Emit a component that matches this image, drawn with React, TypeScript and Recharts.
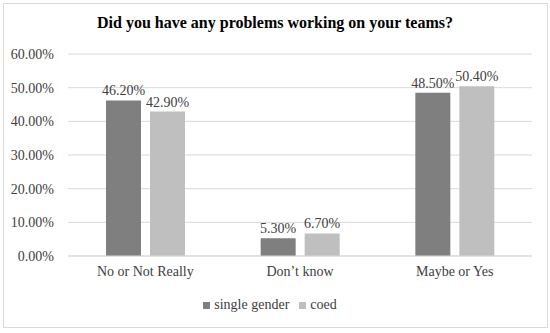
import React from 'react';
import { Bar, BarChart, CartesianGrid, LabelList, Legend, XAxis, YAxis } from 'recharts';

const categories = ['No or Not Really', 'Don\u2019t know', 'Maybe or Yes'];
const singleGender = [46.2, 5.3, 48.5];
const coed = [42.9, 6.7, 50.4];
const yTicks = [0, 10, 20, 30, 40, 50, 60];
const seriesOrder = ['single gender', 'coed'];

const data = categories.map((name, i) => ({
  name,
  single: singleGender[i],
  coed: coed[i],
}));

const pct = (v: number) => `${Number(v).toFixed(2)}%`;
const FONT = '"Liberation Serif", "Times New Roman", serif';
const TEXT = '#404040';

export default function App() {
  return (
    <div
      style={{
        position: 'absolute',
        left: 0,
        top: 0,
        width: 550,
        height: 333,
        background: '#fff',
        fontFamily: FONT,
      }}
    >
      <div
        style={{
          position: 'absolute',
          left: 3,
          top: 3,
          width: 543,
          height: 323,
          border: '1px solid #d9d9d9',
        }}
      />
      <div
        style={{
          position: 'absolute',
          top: 14,
          left: 0,
          width: 550,
          textAlign: 'center',
          fontSize: 16,
          fontWeight: 'bold',
          color: '#000',
        }}
      >
        Did you have any problems working on your teams?
      </div>
      <BarChart
        width={550}
        height={333}
        data={data}
        margin={{ top: 54, right: 18, bottom: 47, left: 8 }}
        barSize={35}
        barGap={9}
        style={{ fontFamily: FONT }}
      >
        <CartesianGrid vertical={false} stroke="#d9d9d9" />
        <XAxis
          dataKey="name"
          tickLine={false}
          axisLine={{ stroke: '#d9d9d9' }}
          tick={{ fill: TEXT, fontSize: 14, fontFamily: FONT }}
          tickMargin={4}
          height={30}
        />
        <YAxis
          width={60}
          domain={[0, 60]}
          ticks={yTicks}
          tickFormatter={pct}
          axisLine={false}
          tickLine={false}
          tickMargin={8}
          tick={{ fill: TEXT, fontSize: 14, fontFamily: FONT }}
        />
        <Legend
          verticalAlign="middle"
          align="center"
          layout="horizontal"
          iconType="square"
          iconSize={7}
          itemSorter={(item: any) => seriesOrder.indexOf(item.value)}
          wrapperStyle={{ top: 297, left: 0, width: 550, fontSize: 14, fontFamily: FONT }}
          formatter={(value) => <span style={{ color: TEXT }}>{value}</span>}
        />
        <Bar dataKey="single" name="single gender" fill="#7f7f7f" isAnimationActive={false}>
          <LabelList
            dataKey="single"
            position="top"
            formatter={pct}
            fill={TEXT}
            fontSize={14}
            fontFamily={FONT}
          />
        </Bar>
        <Bar dataKey="coed" name="coed" fill="#bfbfbf" isAnimationActive={false}>
          <LabelList
            dataKey="coed"
            position="top"
            formatter={pct}
            fill={TEXT}
            fontSize={14}
            fontFamily={FONT}
          />
        </Bar>
      </BarChart>
    </div>
  );
}
